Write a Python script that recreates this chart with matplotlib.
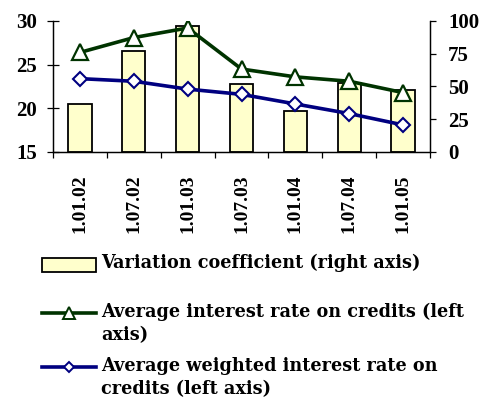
import numpy as np
import matplotlib
matplotlib.use("Agg")
import matplotlib.pyplot as plt
from matplotlib.lines import Line2D
from matplotlib.patches import Rectangle

# values
dates = ["1.01.02", "1.07.02", "1.01.03", "1.07.03", "1.01.04", "1.07.04", "1.01.05"]
variation = [37, 77, 96, 52, 31, 53, 47]             # right axis, bars
avg_rate = [26.4, 28.1, 29.2, 24.5, 23.6, 23.1, 21.8]  # left axis
weighted_rate = [23.4, 23.1, 22.2, 21.6, 20.5, 19.4, 18.1]  # left axis

labels = ["Variation coefficient (right axis)",
          "Average interest rate on credits (left\naxis)",
          "Average weighted interest rate on\ncredits (left axis)"]

GREEN = "#003300"
BLUE = "#000080"
BAR = "#FFFFCC"
FONT = "Liberation Serif"

plt.rcParams["font.family"] = FONT
plt.rcParams["font.weight"] = "bold"

W, H = 491, 401
fig = plt.figure(figsize=(W / 100, H / 100), dpi=100)
fig.patch.set_facecolor("white")


def fx(px):
    return px / W


def fy(py):
    return 1 - py / H


ax = fig.add_axes([fx(53), fy(152), fx(430) - fx(53), fy(21) - fy(152)])
ax2 = ax.twinx()
x = np.arange(len(dates))

# bars on the right axis, drawn behind the lines
ax2.bar(x, variation, width=0.43, color=BAR, edgecolor="black", linewidth=1.3)
ax2.set_ylim(0, 100)
ax2.set_yticks([0, 25, 50, 75, 100])
ax.set_zorder(ax2.get_zorder() + 1)
ax.patch.set_visible(False)

ax.plot(x, avg_rate, color=GREEN, lw=2.6, marker="^", ms=11.5,
        mfc="white", mec=GREEN, mew=1.6, zorder=5)
ax.plot(x, weighted_rate, color=BLUE, lw=2.6, marker="D", ms=7.5,
        mfc="white", mec=BLUE, mew=1.5, zorder=5)

ax.set_ylim(15, 30)
ax.set_yticks([15, 20, 25, 30])
ax.set_xlim(-0.5, len(dates) - 0.5)
ax.set_xticks(x)
ax.set_xticklabels(dates, rotation=90)
ax.set_xticks(np.arange(-0.5, len(dates)), minor=True)

for a in (ax, ax2):
    a.spines["top"].set_visible(False)
    for s in a.spines.values():
        s.set_linewidth(0.9)

ax.tick_params(axis="x", which="major", length=0, pad=16, labelsize=14)
ax.tick_params(axis="x", which="minor", length=4, width=0.9, direction="out")
ax.tick_params(axis="y", length=8, width=0.9, direction="inout", pad=7.5, labelsize=15)
ax2.tick_params(axis="y", length=4, width=0.9, direction="out", pad=9, labelsize=15)
for t in ax.get_xticklabels() + ax.get_yticklabels() + ax2.get_yticklabels():
    t.set_fontweight("bold")
    t.set_fontfamily(FONT)

# legend below the chart, built by hand to keep Excel-like layout
fig.add_artist(Rectangle((fx(42), fy(272)), fx(96) - fx(42), fy(258) - fy(272),
                         transform=fig.transFigure, facecolor=BAR,
                         edgecolor="black", lw=1.3))
for yy, col, mk, ms in [(313, GREEN, "^", 8.5), (367, BLUE, "D", 5.5)]:
    fig.add_artist(Line2D([fx(42), fx(96)], [fy(yy), fy(yy)], color=col, lw=2.6,
                          transform=fig.transFigure))
    fig.add_artist(Line2D([fx(69)], [fy(yy)], marker=mk, ms=ms, mfc="white",
                          mec=col, mew=1.4, transform=fig.transFigure))

for yy, lab in zip([254, 303, 357], labels):
    fig.text(fx(101), fy(yy), lab, ha="left", va="top", fontsize=12.7,
             fontweight="bold", family="DejaVu Serif", linespacing=1.35)

fig.savefig("out.png", dpi=100, facecolor="white")
